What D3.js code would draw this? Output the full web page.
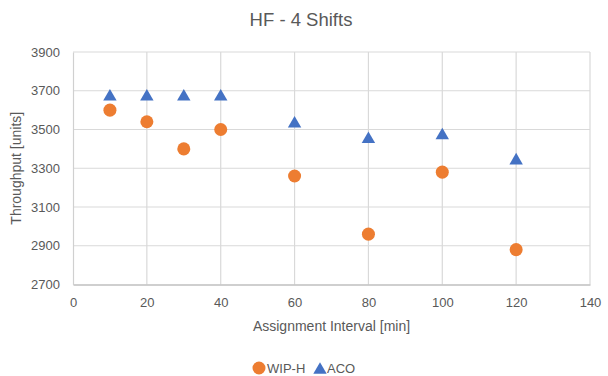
<!DOCTYPE html>
<html>
<head>
<meta charset="utf-8">
<script src="https://cdn.jsdelivr.net/npm/d3@7"></script>
<style>
  body { margin: 0; background: #fff; }
  text { font-family: "Liberation Sans", Arial, sans-serif; fill: #595959; }
</style>
</head>
<body>
<script>
'use strict';

// data
const intervals = [10, 20, 30, 40, 60, 80, 100, 120];
const wipH = [3600, 3540, 3400, 3500, 3260, 2960, 3280, 2880];
const aco = [3680, 3680, 3680, 3680, 3540, 3460, 3480, 3350];
const xTicks = [0, 20, 40, 60, 80, 100, 120, 140];
const yTicks = [2700, 2900, 3100, 3300, 3500, 3700, 3900];

(function () {
    const W = 608, H = 376;
    const left = 73, right = 590, top = 52, bottom = 284.5;

    const svg = d3.select("body").append("svg")
        .attr("width", W)
        .attr("height", H);

    const x = d3.scaleLinear().domain([0, 140]).range([left, right]);
    const y = d3.scaleLinear().domain([2700, 3900]).range([bottom, top]);

    // gridlines
    svg.append("g").selectAll("line")
        .data(yTicks.slice(1))
        .enter().append("line")
        .attr("x1", left).attr("x2", right)
        .attr("y1", d => y(d)).attr("y2", d => y(d))
        .attr("stroke", "#d9d9d9").attr("stroke-width", 1.2);
    svg.append("g").selectAll("line")
        .data(xTicks.slice(1))
        .enter().append("line")
        .attr("x1", d => x(d)).attr("x2", d => x(d))
        .attr("y1", top).attr("y2", bottom)
        .attr("stroke", "#d9d9d9").attr("stroke-width", 1.2);

    // axes
    const xAxis = svg.append("g")
        .attr("transform", `translate(0,${bottom})`)
        .call(d3.axisBottom(x).tickValues(xTicks).tickSize(0).tickPadding(13));
    const yAxis = svg.append("g")
        .attr("transform", `translate(${left},0)`)
        .call(d3.axisLeft(y).tickValues(yTicks).tickFormat(d3.format("d")).tickSize(0).tickPadding(13));
    xAxis.select(".domain").attr("stroke", "#bfbfbf").attr("stroke-width", 1.3);
    yAxis.select(".domain").attr("stroke", "#d0d0d0").attr("stroke-width", 1.2);
    [xAxis, yAxis].forEach(a => {
        a.selectAll("text").style("font-size", "13px").style("fill", "#595959")
            .style("font-family", '"Liberation Sans", Arial, sans-serif');
    });

    // titles
    svg.append("text")
        .attr("x", 301).attr("y", 26)
        .attr("text-anchor", "middle")
        .style("font-size", "18.5px")
        .text("HF - 4 Shifts");
    svg.append("text")
        .attr("x", (left + right) / 2).attr("y", 331)
        .attr("text-anchor", "middle")
        .style("font-size", "14px")
        .text("Assignment Interval [min]");
    svg.append("text")
        .attr("transform", `translate(21,${(top + bottom) / 2}) rotate(-90)`)
        .attr("text-anchor", "middle")
        .style("font-size", "14px")
        .text("Throughput [units]");

    // markers
    const circ = d3.symbol().type(d3.symbolCircle).size(133);
    const tri = d3.symbol().type(d3.symbolTriangle).size(78);

    svg.append("g").selectAll("path")
        .data(intervals.map((d, i) => [d, wipH[i]]))
        .enter().append("path")
        .attr("d", circ)
        .attr("transform", d => `translate(${x(d[0])},${y(d[1])})`)
        .attr("fill", "#ED7D31");

    svg.append("g").selectAll("path")
        .data(intervals.map((d, i) => [d, aco[i]]))
        .enter().append("path")
        .attr("d", tri)
        .attr("transform", d => `translate(${x(d[0])},${y(d[1]) + 2})`)
        .attr("fill", "#4472C4");

    // legend
    const lg = svg.append("g").attr("transform", "translate(0,368)");
    lg.append("path").attr("d", circ).attr("transform", "translate(259,0)").attr("fill", "#ED7D31");
    lg.append("text").attr("x", 267).attr("y", 4.5).style("font-size", "13px").text("WIP-H");
    lg.append("path").attr("d", tri).attr("transform", "translate(320,2)").attr("fill", "#4472C4");
    lg.append("text").attr("x", 327).attr("y", 4.5).style("font-size", "13px").text("ACO");
})();
</script>
</body>
</html>
